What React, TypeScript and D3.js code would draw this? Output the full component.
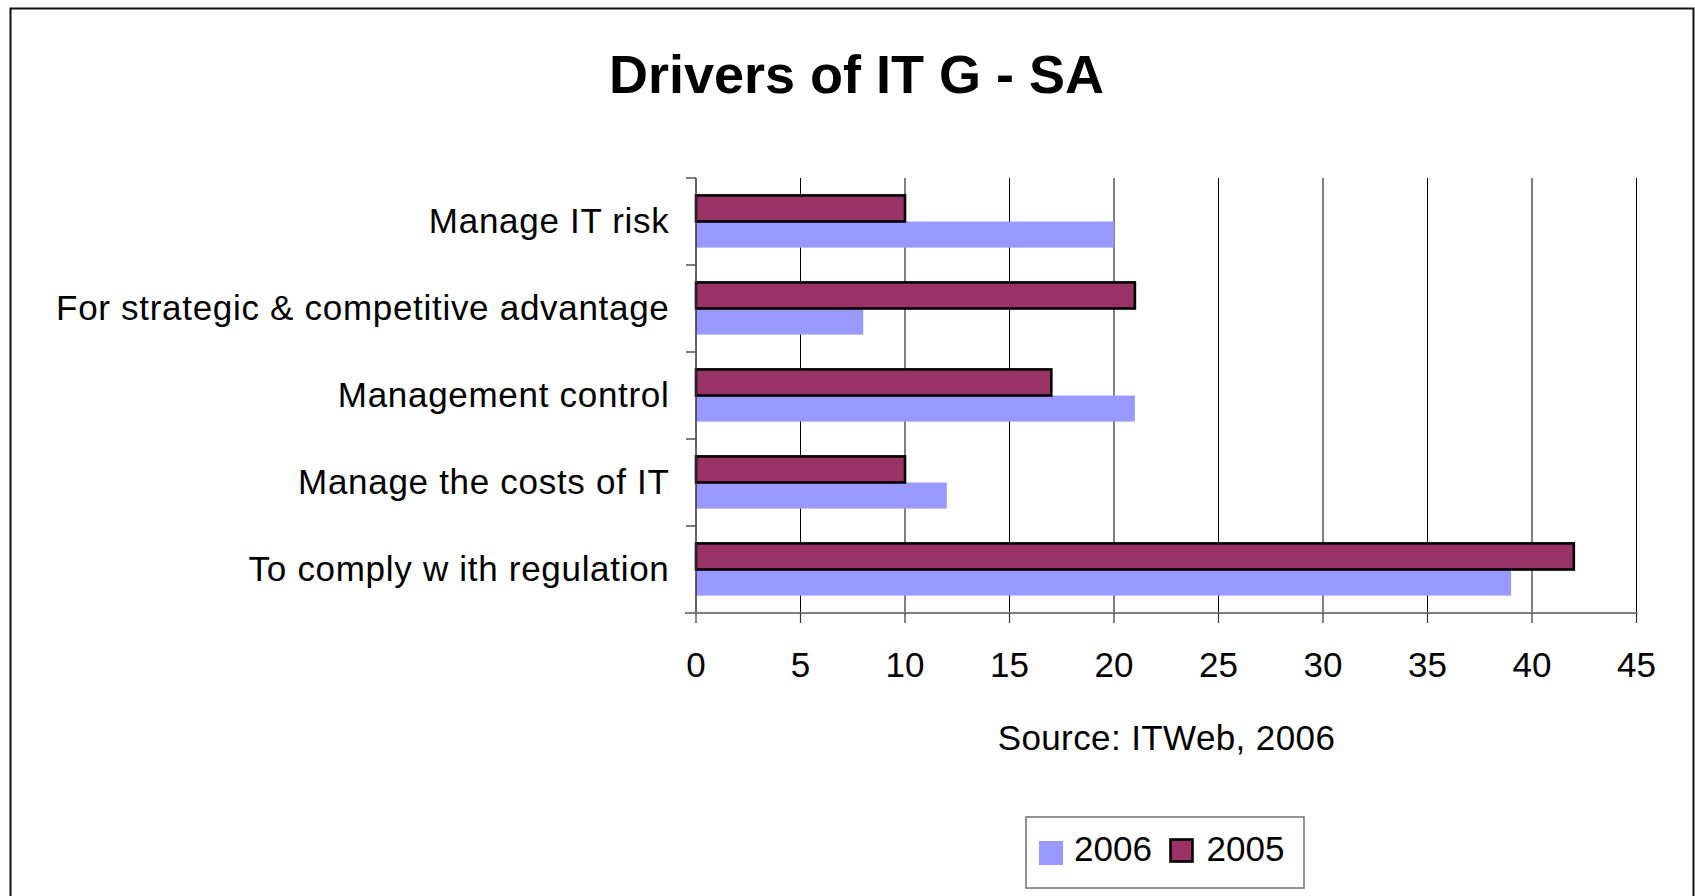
import React from "react";
import * as d3 from "d3";

const categories = [
  "Manage IT risk",
  "For strategic & competitive advantage",
  "Management control",
  "Manage the costs of IT",
  "To comply w ith regulation",
];
const seriesNames = ["2005", "2006"];
const values2005 = [10, 21, 17, 10, 42];
const values2006 = [20, 8, 21, 12, 39];
const xTicks = [0, 5, 10, 15, 20, 25, 30, 35, 40, 45];
const title = "Drivers of IT G - SA";
const sourceNote = "Source: ITWeb, 2006";

const COLORS: Record<string, string> = { "2005": "#993366", "2006": "#9999FF" };
const FONT = "'Liberation Sans', Arial, Helvetica, sans-serif";

export default function App() {
  const W = 1695;
  const H = 896;
  const left = 696;
  const right = 1636.5;
  const top = 178;
  const bottom = 613;

  const x = d3.scaleLinear().domain([0, 45]).range([left, right]);
  const y = d3.scaleBand<string>().domain(categories).range([top, bottom]).paddingInner(0.4).paddingOuter(0.2);
  const inner = d3.scaleBand<string>().domain(seriesNames).range([0, y.bandwidth()]);
  const seriesVals: Record<string, number[]> = { "2005": values2005, "2006": values2006 };
  const step = y.step();
  const boundaries = d3.range(categories.length + 1).map((i) => top + i * step);

  return (
    <svg
      width={W}
      height={H}
      style={{ position: "absolute", left: 0, top: 0, display: "block", background: "#fff" }}
      fontFamily={FONT}
    >
      <rect x={0} y={0} width={W} height={H} fill="#fff" />
      {/* outer border */}
      <rect x={10.5} y={8.5} width={1683} height={900} fill="none" stroke="#111" strokeWidth={2} />

      {/* title */}
      <text x={856.5} y={93} textAnchor="middle" fontSize={54} fontWeight="bold" fill="#000">
        {title}
      </text>

      {/* gridlines */}
      {xTicks.slice(1).map((t) => (
        <line key={"g" + t} x1={x(t)} x2={x(t)} y1={top} y2={bottom} stroke="#000" strokeWidth={1} />
      ))}

      {/* bars */}
      {seriesNames
        .slice()
        .reverse()
        .map((s) =>
          categories.map((c, i) => {
            const v = seriesVals[s][i];
            const yy = (y(c) as number) + (inner(s) as number);
            const h = inner.bandwidth();
            return s === "2005" ? (
              <rect
                key={s + c}
                x={x(0)}
                y={yy}
                width={x(v) - x(0)}
                height={h}
                fill={COLORS[s]}
                stroke="#000"
                strokeWidth={2.6}
              />
            ) : (
              <rect key={s + c} x={x(0)} y={yy} width={x(v) - x(0)} height={h} fill={COLORS[s]} />
            );
          })
        )}

      {/* left axis */}
      <line x1={left} x2={left} y1={top} y2={bottom} stroke="#333" strokeWidth={1.5} />
      {boundaries.map((b, i) => (
        <line key={"yt" + i} x1={left - 10} x2={left} y1={b} y2={b} stroke="#555" strokeWidth={1.5} />
      ))}

      {/* bottom axis */}
      <line x1={left - 11} x2={right + 1} y1={bottom} y2={bottom} stroke="#808080" strokeWidth={2} />
      {xTicks.map((t) => (
        <line key={"xt" + t} x1={x(t)} x2={x(t)} y1={bottom} y2={bottom + 10} stroke="#333" strokeWidth={1.2} />
      ))}
      {xTicks.map((t) => (
        <text key={"xl" + t} x={x(t)} y={676.5} textAnchor="middle" fontSize={35} fill="#000">
          {t}
        </text>
      ))}

      {/* category labels */}
      {categories.map((c) => (
        <text
          key={"cl" + c}
          x={669.5}
          y={(y(c) as number) + y.bandwidth() / 2 + 11.5}
          textAnchor="end"
          fontSize={35}
          letterSpacing={0.7}
          fill="#000"
        >
          {c}
        </text>
      ))}

      {/* source */}
      <text x={1166.5} y={750} textAnchor="middle" fontSize={35} letterSpacing={0.4} fill="#000">
        {sourceNote}
      </text>

      {/* legend */}
      <rect x={1026} y={817} width={278} height={71} fill="#fff" stroke="#707070" strokeWidth={1.5} />
      <rect x={1039} y={841} width={24} height={24} fill={COLORS["2006"]} />
      <text x={1074} y={861} fontSize={35} fill="#000">2006</text>
      <rect x={1170.5} y={839.5} width={22} height={22} fill={COLORS["2005"]} stroke="#000" strokeWidth={2.6} />
      <text x={1206.5} y={861} fontSize={35} fill="#000">2005</text>
    </svg>
  );
}
